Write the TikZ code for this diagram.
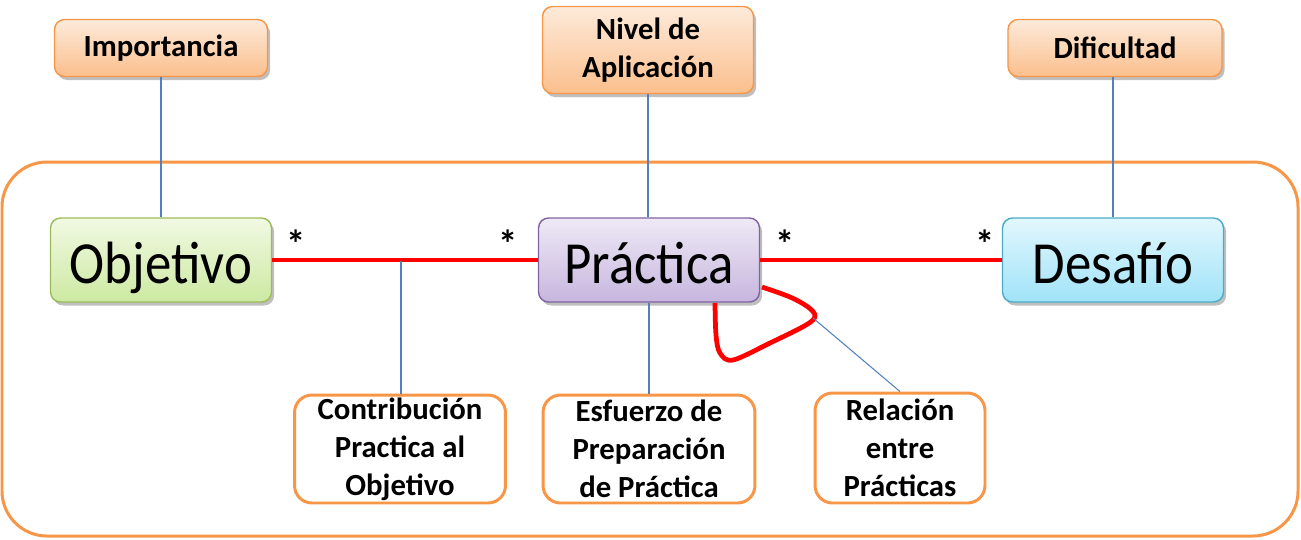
\documentclass[tikz,border=0pt]{standalone}
\usepackage{fontspec}
\setmainfont{Carlito}
\newfontfamily\clasefont[FakeStretch=0.885]{Carlito}
\usetikzlibrary{positioning,shadows}
\definecolor{naranja}{HTML}{F79646}
\definecolor{naranjaA}{HTML}{FDEADA}
\definecolor{naranjaB}{HTML}{FBBF8D}
\definecolor{verde}{HTML}{9BBB59}
\definecolor{verdeA}{HTML}{F1F9E3}
\definecolor{verdeB}{HTML}{CDE9A2}
\definecolor{lila}{HTML}{8064A2}
\definecolor{lilaA}{HTML}{EEE9F6}
\definecolor{lilaB}{HTML}{C7B6DE}
\definecolor{celeste}{HTML}{4BACC6}
\definecolor{celesteA}{HTML}{E2F7FE}
\definecolor{celesteB}{HTML}{A0E3F8}
\definecolor{azul}{HTML}{4F81BD}
\tikzset{
sombra/.style = {drop shadow = {shadow xshift = 1.5pt, shadow yshift = -2pt, opacity = 0.25, fill = black}},
atrib/.style = {draw = naranja, line width = 0.8pt, rounded corners = 0.2cm, top color = naranjaA, bottom color = naranjaB, sombra, align = center, inner sep = 0pt, font = \fontsize{17.5}{21.6}\selectfont\bfseries},
clase/.style = {line width = 0.8pt, rounded corners = 0.2cm, sombra, minimum width = 4.42cm, minimum height = 1.68cm, inner sep = 0pt, text height = 1.2cm, text depth = 0.28cm, font = \clasefont\fontsize{34}{40}\selectfont},
relbox/.style = {draw = naranja, line width = 1.7pt, rounded corners = 0.35cm, fill = white, align = center, inner sep = 0pt, minimum height = 2.16cm, font = \fontsize{17.5}{21.6}\selectfont\bfseries},
marco/.style = {draw = naranja, line width = 1.7pt, rounded corners = 0.9cm},
assoc/.style = {line width = 2.3pt, color = red},
enlace/.style = {line width = 0.6pt, color = azul},
mult/.style = {font = \fontsize{22}{24}\selectfont\bfseries, inner sep = 0pt}}

\begin{document}
\begin{tikzpicture}[x=0.02cm, y=-0.02cm]
\useasboundingbox (0,0) rectangle (1301,539);
%
% outer frame
\draw[marco] (2,162) rectangle (1298,536);
%
% attribute boxes on top
\node[atrib, minimum width = 4.26cm, minimum height = 1.14cm] (imp) at (161,48) {Importancia};
\node[atrib, minimum width = 4.22cm, minimum height = 1.74cm] (niv) at (648,50) {Nivel de\\Aplicación};
\node[atrib, minimum width = 4.28cm, minimum height = 1.14cm] (dif) at (1115,48) {Dificultad};
%
% classes
\node[clase, draw = verde, top color = verdeA, bottom color = verdeB] (obj) at (161,260) {Objetivo};
\node[clase, draw = lila, top color = lilaA, bottom color = lilaB] (prac) at (649,260) {Práctica};
\node[clase, draw = celeste, top color = celesteA, bottom color = celesteB] (des) at (1113,260) {Desafío};
%
% association boxes below
\node[relbox, minimum width = 4.22cm] (contrib) at (400,449) {Contribución\\Practica al\\Objetivo};
\node[relbox, minimum width = 4.24cm] (esf) at (649,449) {Esfuerzo de\\Preparación\\de Práctica};
\node[relbox, minimum width = 3.4cm, minimum height = 2.2cm] (rel) at (900,448) {Relación\\entre\\Prácticas};
%
% associations
\draw[assoc] (obj) -- (prac);
\draw[assoc] (prac) -- (des);
%
% self association of Práctica
\coordinate (lc) at (813,318);
\draw[assoc, line width = 2.7pt] plot[smooth, tension = 0.55] coordinates {(715,303) (716,335) (720,353) (733,360) (770,343) (806,325) (815,316) (808,307) (790,297) (762,287)};
%
% multiplicities
\node[mult] (m1) at (296,244) {*};
\node[mult] (m2) at (508,244) {*};
\node[mult] (m3) at (785,244) {*};
\node[mult] (m4) at (985,244) {*};
%
% links to attributes
\draw[enlace] (imp) -- (obj);
\draw[enlace] (niv.south) -- (niv.south |- prac.north);
\draw[enlace] (des.north) -- (des.north |- dif.south);
\coordinate (c1) at (401,261);
\draw[enlace] (c1) -- (c1 |- contrib.north);
\draw[enlace] (prac.south) -- (esf.north);
\draw[enlace] (lc) -- (rel.north);
%
\end{tikzpicture}
\end{document}
